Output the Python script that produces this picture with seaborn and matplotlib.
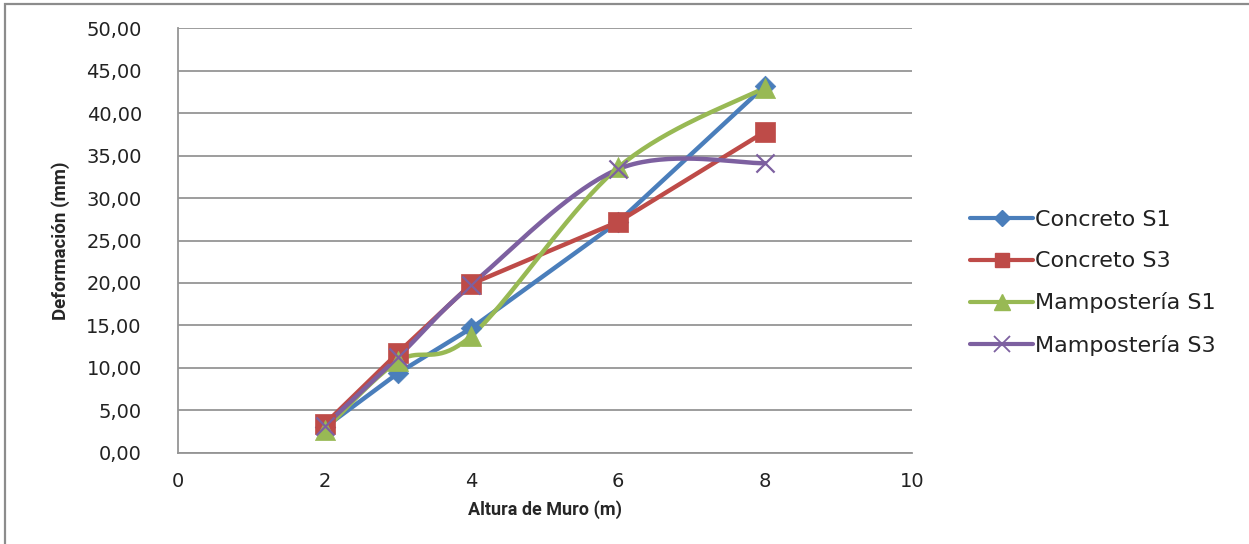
import numpy as np
import pandas as pd
import matplotlib
matplotlib.use("Agg")
import matplotlib.pyplot as plt
import seaborn as sns
from matplotlib.lines import Line2D
from matplotlib.ticker import FuncFormatter, MultipleLocator

# ---- data ----
altura = [2, 3, 4, 6, 8]
concreto_s1 = [3.0, 9.4, 14.7, 27.2, 43.2]
concreto_s3 = [3.4, 11.8, 19.9, 27.2, 37.8]
mamposteria_s1 = [2.7, 10.8, 13.8, 33.6, 43.0]
mamposteria_s3 = [3.2, 11.3, 19.8, 33.4, 34.1]
series_names = ["Concreto S1", "Concreto S3", "Mampostería S1", "Mampostería S3"]
x_label = "Altura de Muro (m)"
y_label = "Deformación (mm)"

# ---- style ----
colors = ["#4A7EBB", "#BE4B48", "#98B954", "#7D60A0"]
markers = ["D", "s", "^", "x"]
msizes = [110, 190, 210, 170]
smooth = [False, False, True, True]

sns.set_style("white")
plt.rcParams["font.family"] = ["DejaVu Sans"]


def smooth_curve(xs, ys, n=40):
    """Excel-like smoothed line (Catmull-Rom as cubic Bezier)."""
    P = np.column_stack([xs, ys]).astype(float)
    m = len(P)
    out = []
    for i in range(m - 1):
        p0 = P[i - 1] if i > 0 else P[i]
        p1 = P[i]
        p2 = P[i + 1]
        p3 = P[i + 2] if i + 2 < m else P[i + 1]
        c1 = p1 + (p2 - p0) / 6.0
        c2 = p2 - (p3 - p1) / 6.0
        t = np.linspace(0, 1, n)[:, None]
        seg = ((1 - t) ** 3) * p1 + 3 * ((1 - t) ** 2) * t * c1 + 3 * (1 - t) * t ** 2 * c2 + t ** 3 * p2
        out.append(seg if i == 0 else seg[1:])
    out = np.vstack(out)
    return out[:, 0], out[:, 1]


fig = plt.figure(figsize=(12.49, 5.44), dpi=100)
ax = fig.add_axes([0.1425, 0.1673, 0.730 - 0.1425, 0.9485 - 0.1673])

all_series = [concreto_s1, concreto_s3, mamposteria_s1, mamposteria_s3]
for name, ys, c, mk, ms, sm in zip(series_names, all_series, colors, markers, msizes, smooth):
    if sm:
        cx, cy = smooth_curve(altura, ys)
    else:
        cx, cy = np.array(altura, float), np.array(ys, float)
    dfl = pd.DataFrame({"x": cx, "y": cy})
    sns.lineplot(data=dfl, x="x", y="y", sort=False, ax=ax, color=c, linewidth=3.2,
                 estimator=None, legend=False, zorder=3)
    dfp = pd.DataFrame({"x": altura, "y": ys})
    if mk == "x":
        sns.scatterplot(data=dfp, x="x", y="y", ax=ax, marker="x", color=c, s=ms,
                        linewidth=1.6, legend=False, zorder=4)
    else:
        sns.scatterplot(data=dfp, x="x", y="y", ax=ax, marker=mk, color=c, s=ms,
                        edgecolor=c, linewidth=0.5, legend=False, zorder=4)

ax.set_xlim(0, 10)
ax.set_ylim(0, 50)
ax.xaxis.set_major_locator(MultipleLocator(2))
ax.yaxis.set_major_locator(MultipleLocator(5))
ax.yaxis.set_major_formatter(FuncFormatter(lambda v, p: f"{v:.2f}".replace(".", ",")))
ax.xaxis.set_major_formatter(FuncFormatter(lambda v, p: f"{v:.0f}"))

ax.grid(axis="y", color="#959595", linewidth=1.3)
ax.grid(axis="x", visible=False)
ax.set_axisbelow(True)
for s in ["top", "right"]:
    ax.spines[s].set_visible(False)
for s in ["left", "bottom"]:
    ax.spines[s].set_color("#959595")
    ax.spines[s].set_linewidth(1.3)

ax.tick_params(axis="both", length=0, labelsize=14, colors="#222222")
ax.tick_params(axis="y", pad=26)
ax.tick_params(axis="x", pad=14)

lab_family = ["Liberation Sans Narrow", "Roboto", "DejaVu Sans"]
ax.set_xlabel(x_label, fontsize=13, fontweight="bold", family=lab_family, labelpad=6)
ax.set_ylabel(y_label, fontsize=13.5, fontweight="bold", family=lab_family, labelpad=12)

handles = []
for name, c, mk in zip(series_names, colors, markers):
    if mk == "x":
        h = Line2D([], [], color=c, lw=3, marker="x", markersize=11, markeredgewidth=1.3)
    else:
        ms = {"D": 8, "s": 10, "^": 11}[mk]
        h = Line2D([], [], color=c, lw=3, marker=mk, markersize=ms, markeredgecolor=c)
    handles.append(h)
leg = fig.legend(handles, series_names, loc="center left", bbox_to_anchor=(0.761, 0.480),
                 frameon=False, fontsize=16, handlelength=2.8, handletextpad=0.1,
                 labelspacing=0.95)
for t in leg.get_texts():
    t.set_color("#222222")

# outer chart border
fig.add_artist(plt.Rectangle((0.004, -0.02), 1.1, 1.012, transform=fig.transFigure,
                             fill=False, edgecolor="#8C8C8C", linewidth=1.6))

fig.savefig("out.png", dpi=100)
